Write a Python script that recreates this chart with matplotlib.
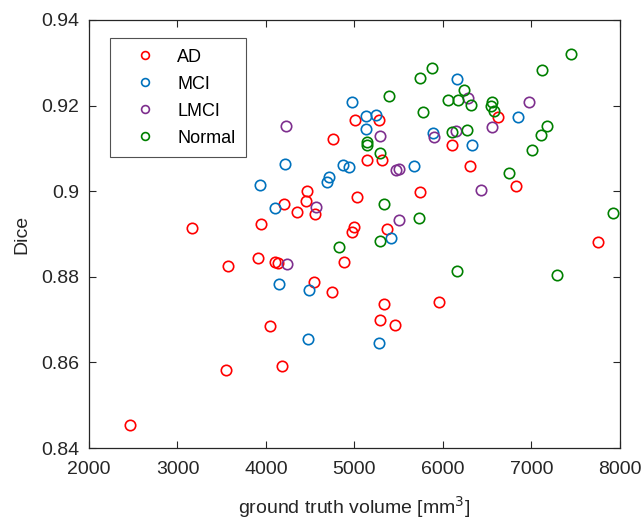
import numpy as np
import matplotlib.pyplot as plt

plt.rcParams['font.family'] = ['Liberation Sans', 'DejaVu Sans']

# AD
ad_x = [4760, 4459, 4452, 4207, 4346, 4554, 3167, 3944, 3566, 3906, 4102, 4139,
        4881, 4545, 4746, 4045, 3551, 4176, 2467, 5003, 5273, 5144, 5314, 6624,
        6098, 6309, 6825, 5740, 5032, 4997, 4972, 5371, 7748, 5329, 5955, 5283, 5458]
ad_y = [0.9123, 0.9001, 0.8978, 0.8970, 0.8952, 0.8947, 0.8913, 0.8923, 0.8825,
        0.8843, 0.8835, 0.8832, 0.8835, 0.8788, 0.8764, 0.8685, 0.8582, 0.8591,
        0.8454, 0.9167, 0.9167, 0.9073, 0.9073, 0.9174, 0.9108, 0.9058, 0.9011,
        0.8997, 0.8987, 0.8917, 0.8905, 0.8911, 0.8881, 0.8737, 0.8740, 0.8700, 0.8687]

# MCI
mci_x = [4218, 3932, 4874, 4941, 4685, 4715, 4105, 4142, 4489, 4470, 6153, 6850,
         4972, 5125, 5246, 5130, 5672, 5887, 6328, 5412, 5272]
mci_y = [0.9064, 0.9014, 0.9061, 0.9056, 0.9022, 0.9032, 0.8961, 0.8782, 0.8768,
         0.8655, 0.9261, 0.9173, 0.9208, 0.9176, 0.9179, 0.9145, 0.9058, 0.9135,
         0.9108, 0.8890, 0.8646]

# LMCI
lmci_x = [4226, 4560, 4232, 6278, 6975, 5285, 5469, 5503, 5898, 6142, 6549, 6426, 5499]
lmci_y = [0.9152, 0.8964, 0.8829, 0.9217, 0.9208, 0.9129, 0.9050, 0.9053, 0.9126,
          0.9141, 0.9150, 0.9002, 0.8932]

# Normal
nor_x = [4828, 7446, 7122, 5871, 5740, 5386, 6237, 6052, 6165, 6312, 6549, 6542,
         6576, 5771, 5144, 5144, 5288, 6106, 6268, 7175, 7107, 7006, 6748, 5329,
         5725, 7917, 5283, 6153, 7292]
nor_y = [0.8869, 0.9320, 0.9284, 0.9287, 0.9264, 0.9222, 0.9236, 0.9212, 0.9214,
         0.9201, 0.9209, 0.9199, 0.9188, 0.9184, 0.9114, 0.9107, 0.9090, 0.9138,
         0.9144, 0.9152, 0.9131, 0.9096, 0.9043, 0.8970, 0.8937, 0.8949, 0.8884,
         0.8814, 0.8805]

fig = plt.figure(figsize=(6.41, 5.19), dpi=100)
ax = fig.add_axes([0.1388, 0.1368, 0.8284, 0.8247])

stil = dict(ls='none', marker='o', ms=7.5, mfc='none', mew=1.2)
ax.plot(ad_x, ad_y, color=(1, 0, 0), label='AD', **stil)
ax.plot(mci_x, mci_y, color=(0, 0.447, 0.741), label='MCI', **stil)
ax.plot(lmci_x, lmci_y, color=(0.494, 0.184, 0.556), label='LMCI', **stil)
ax.plot(nor_x, nor_y, color=(0, 0.5, 0), label='Normal', **stil)

ax.set_xlim(2000, 8000)
ax.set_ylim(0.84, 0.94)
ax.set_xticks(np.arange(2000, 8001, 1000))
ax.set_yticks([0.84, 0.86, 0.88, 0.9, 0.92, 0.94])
ax.set_yticklabels(['0.84', '0.86', '0.88', '0.9', '0.92', '0.94'])
ax.tick_params(direction='in', top=True, right=True, labelsize=14,
               colors='#262626', length=5, width=0.8)
ax.tick_params(axis='x', pad=9)
ax.tick_params(axis='y', pad=7)
for s in ax.spines.values():
    s.set_color('#262626')
    s.set_linewidth(0.9)

ax.set_xlabel('ground truth volume [mm$^3$]', fontsize=14, color='#262626', labelpad=12)
ax.set_ylabel('Dice', fontsize=14, color='#262626', labelpad=8)

leg = ax.legend(loc='upper left', bbox_to_anchor=(0.04, 0.958), fontsize=13,
                markerscale=0.75, fancybox=False, edgecolor='#262626',
                handlelength=2.6, labelspacing=0.55, borderpad=0.6,
                handletextpad=0.5, borderaxespad=0)
leg.get_frame().set_linewidth(0.8)

fig.savefig('out.png', dpi=100)
